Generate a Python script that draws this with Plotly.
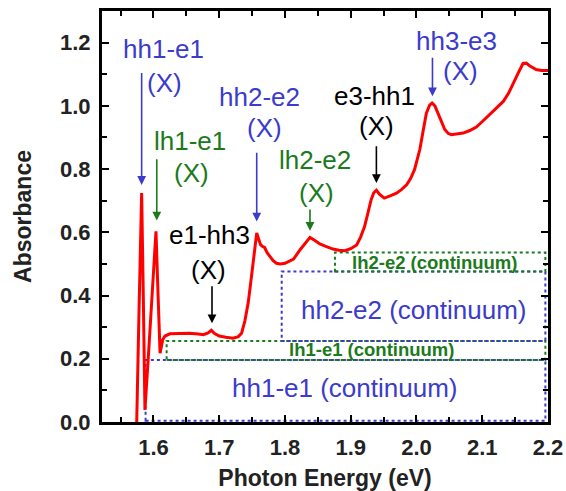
import plotly.graph_objects as go

# ---- absorbance spectrum ----
energy = [1.5745, 1.5745, 1.578, 1.582, 1.5845, 1.587, 1.592, 1.598, 1.6038, 1.607, 1.610,
          1.614, 1.6175, 1.625, 1.64, 1.655, 1.668, 1.676, 1.683, 1.688, 1.693, 1.70, 1.71,
          1.721, 1.729, 1.734, 1.739, 1.744, 1.749, 1.752, 1.755, 1.757, 1.760, 1.763, 1.766,
          1.769, 1.773, 1.777, 1.782, 1.787, 1.793, 1.80, 1.807, 1.813, 1.823, 1.830, 1.838,
          1.845, 1.853, 1.863, 1.873, 1.882, 1.891, 1.90, 1.909, 1.915, 1.921, 1.926, 1.931,
          1.935, 1.939, 1.944, 1.951, 1.96, 1.9696, 1.977, 1.985, 1.991, 1.997, 2.001, 2.005,
          2.010, 2.015, 2.020, 2.0237, 2.028, 2.033, 2.038, 2.043, 2.048, 2.053, 2.062, 2.071,
          2.081, 2.091, 2.101, 2.111, 2.121, 2.132, 2.140, 2.147, 2.155, 2.162, 2.167, 2.172,
          2.177, 2.182, 2.19, 2.2]
absorb = [-0.03, 0.0, 0.35, 0.724, 0.40, 0.038, 0.20, 0.42, 0.603, 0.40, 0.2175,
          0.26, 0.272, 0.279, 0.281, 0.281, 0.278, 0.276, 0.282, 0.290, 0.280, 0.272, 0.268,
          0.265, 0.270, 0.281, 0.320, 0.376, 0.46, 0.513, 0.575, 0.598, 0.578, 0.56, 0.555,
          0.552, 0.535, 0.523, 0.51, 0.502, 0.500, 0.502, 0.508, 0.515, 0.545, 0.565, 0.584,
          0.575, 0.563, 0.555, 0.547, 0.543, 0.542, 0.548, 0.560, 0.585, 0.618, 0.66, 0.703,
          0.725, 0.733, 0.72, 0.708, 0.715, 0.724, 0.735, 0.750, 0.77, 0.798, 0.83, 0.861,
          0.92, 0.977, 1.002, 1.009, 1.0, 0.977, 0.95, 0.925, 0.913, 0.909, 0.912, 0.914,
          0.922, 0.933, 0.952, 0.972, 0.992, 1.014, 1.04, 1.072, 1.105, 1.134, 1.135, 1.127,
          1.12, 1.115, 1.112, 1.112]

# ---- continuum boxes ----
cont_labels = ["hh1-e1 (continuum)", "lh1-e1 (continuum)", "hh2-e2 (continuum)", "lh2-e2 (continuum)"]
cont_onset = [1.588, 1.620, 1.795, 1.876]
cont_end = [2.196, 2.196, 2.196, 2.196]
cont_low = [0.004, 0.196, 0.2565, 0.476]
cont_high = [0.196, 0.2565, 0.476, 0.536]
cont_label_x = [1.891, 1.9316, 1.995, 2.028]
cont_label_y = [0.107, 0.228, 0.355, 0.506]
cont_kind = ["hh", "lh", "hh", "lh"]

# ---- exciton transitions ----
exc_names = ["hh1-e1", "lh1-e1", "hh2-e2", "lh2-e2", "e1-hh3", "e3-hh1", "hh3-e3"]
exc_kind = ["hh", "lh", "hh", "lh", "k", "k", "hh"]
exc_energy = [1.582, 1.605, 1.757, 1.838, 1.689, 1.939, 2.0243]
arrow_tip = [0.75, 0.637, 0.634, 0.605, 0.3125, 0.756, 1.030]
arrow_tail = [1.109, 0.836, 0.856, 0.677, 0.434, 0.877, 1.157]
name_x = [1.6149, 1.6549, 1.7617, 1.8459, 1.6859, 1.9366, 2.0608]
name_y = [1.18, 0.8876, 1.0282, 0.8296, 0.5921, 1.0301, 1.2043]
x_label_x = [1.6175, 1.6576, 1.7693, 1.8479, 1.6833, 1.9392, 2.0673]
x_label_y = [1.0726, 0.7876, 0.9301, 0.7242, 0.4813, 0.9350, 1.1094]

BLUE = "#3b3bcc"
GREEN = "#1b7a1b"
COL = {"hh": BLUE, "lh": GREEN, "k": "#000000"}
FONT = "Liberation Sans, Arial, sans-serif"

fig = go.Figure()

shapes = []
annotations = []
for lab, x0, x1, y0, y1, lx, ly, k in zip(cont_labels, cont_onset, cont_end, cont_low,
                                           cont_high, cont_label_x, cont_label_y, cont_kind):
    shapes.append(dict(type="rect", xref="x", yref="y", x0=x0, x1=x1, y0=y0, y1=y1,
                       line=dict(color=COL[k], width=2, dash="dot"), layer="below"))
    if k == "hh":
        f = dict(family=FONT, size=26, color=COL[k])
        txt = lab
    else:
        f = dict(family=FONT, size=18.5, color=COL[k])
        txt = "<b>" + lab + "</b>"
    annotations.append(dict(x=lx, y=ly, xref="x", yref="y", text=txt, showarrow=False,
                            font=f, xanchor="center", yanchor="middle"))

fig.add_trace(go.Scatter(x=energy, y=absorb, mode="lines",
                         line=dict(color="#ff0000", width=3), showlegend=False,
                         cliponaxis=True))

for n, k, e, tip, tail, nx, ny, xx, xy in zip(exc_names, exc_kind, exc_energy, arrow_tip,
                                              arrow_tail, name_x, name_y, x_label_x, x_label_y):
    c = COL[k]
    annotations.append(dict(x=nx, y=ny, xref="x", yref="y", text=n, showarrow=False,
                            font=dict(family=FONT, size=26, color=c)))
    annotations.append(dict(x=xx, y=xy, xref="x", yref="y", text="(X)", showarrow=False,
                            font=dict(family=FONT, size=26, color=c)))
    annotations.append(dict(x=e, y=tip, xref="x", yref="y", ax=e, ay=tail, axref="x",
                            ayref="y", text="", showarrow=True, arrowhead=2, arrowsize=1.1,
                            arrowwidth=1.6, arrowcolor=c, standoff=0, startstandoff=0))

axis_common = dict(showline=True, linecolor="black", linewidth=3, mirror="allticks",
                   ticks="inside", ticklen=7, tickwidth=2, tickcolor="black",
                   showgrid=False, zeroline=False, automargin=False,
                   tickfont=dict(family=FONT, size=22, color="#222222", weight="bold"),
                   tickformat=".1f")

fig.update_xaxes(range=[1.5217, 2.2], tick0=1.6, dtick=0.1, ticklabelstandoff=4,
                 minor=dict(dtick=0.05, ticklen=5, tickwidth=2, tickcolor="black",
                            ticks="inside"),
                 title=dict(text="<b>Photon Energy (eV)</b>",
                            font=dict(family=FONT, size=23, color="#222222"), standoff=12),
                 **axis_common)
fig.update_yaxes(range=[0, 1.3], tick0=0, dtick=0.2, ticklabelstandoff=4,
                 minor=dict(dtick=0.1, ticklen=5, tickwidth=2, tickcolor="black",
                            ticks="inside"),
                 title=dict(text="<b>Absorbance</b>",
                            font=dict(family=FONT, size=23, color="#222222"), standoff=22),
                 **axis_common)

fig.update_layout(width=566, height=491, margin=dict(l=102, r=18, t=11, b=69),
                  plot_bgcolor="white", paper_bgcolor="white",
                  shapes=shapes, annotations=annotations, showlegend=False)

fig.write_html("out.html")
